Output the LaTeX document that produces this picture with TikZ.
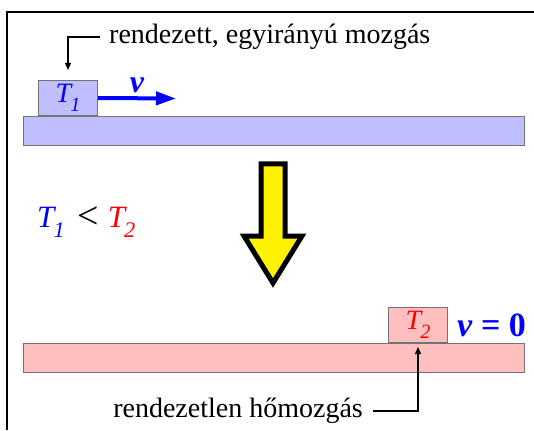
\documentclass[tikz,border=0pt]{standalone}
\usepackage{fontspec}
\setmainfont{Liberation Serif}
\usepackage{tikz}
\usetikzlibrary{arrows.meta, positioning}
\usepackage{xcolor}

\newcommand{\Tsub}[1]{\textit{T\kern-0.03em\raisebox{-0.33em}{\scalebox{0.72}{#1}}}}
\newcommand{\fsz}[1]{\fontsize{#1}{#1}\selectfont}

\begin{document}
\begin{tikzpicture}[x=1pt, y=-1pt,
    bar/.style={draw=black!55, line width=1pt, anchor=north west, minimum width=501pt, minimum height=29pt, inner sep=0pt},
    block/.style={draw=black!55, line width=1pt, anchor=south west, minimum width=59pt, minimum height=35pt, inner sep=0pt, font=\fsz{28}},
    label/.style={font=\fsz{28}, inner sep=0pt},
    callout/.style={line width=1.3pt, -{Triangle[length=7pt, width=6pt]}}]
    \useasboundingbox (0,0) rectangle (534,430);
    \draw[line width=2pt] (7,430) -- (7,12) -- (534,12);

    \node[bar, fill=blue!25] (bar1) at (23,116) {};
    \node[block, fill=blue!25, text=blue] (b1) at (38,116) {\Tsub{1}};
    \coordinate (vend) at (176,98.5);
    \draw[blue, line width=4pt, -{Triangle[length=20pt, width=13pt]}] (b1.east) -- (vend)
        node[midway, above=0pt, font=\fsz{32}\bfseries\itshape] {v};
    \node[label, anchor=west] (lab1) at (109,37) {rendezett, egyirányú mozgás};
    \draw[callout] ([xshift=-9pt]lab1.west) -| ([yshift=10pt]b1.north);

    \draw[fill=yellow, line width=5pt, miter limit=10] (261,164) -- (285,164) -- (285,236) -- (302,236)
        -- (273,283) -- (244,236) -- (261,236) -- cycle;

    \node[anchor=west, inner sep=0pt, font=\fsz{31}] (cmp) at (37,222)
        {\textcolor{blue}{\Tsub{1}}\hspace{0.4em}\raisebox{-0.06em}{\fsz{38}<}\hspace{0.3em}\textcolor{red}{\Tsub{2}}};

    \node[bar, fill=red!25] (bar2) at (23,343) {};
    \node[block, fill=red!25, text=red] (b2) at (388,343) {\Tsub{2}};
    \node[right=9pt of b2, inner sep=0pt, text=blue, font=\fsz{34}\bfseries] (v0) {\textit{v} = 0};
    \node[label, anchor=east] (lab2) at (363,411) {rendezetlen hőmozgás};
    \draw[callout] ([xshift=10pt]lab2.east) -| ([yshift=-4pt]b2.south);
\end{tikzpicture}
\end{document}
